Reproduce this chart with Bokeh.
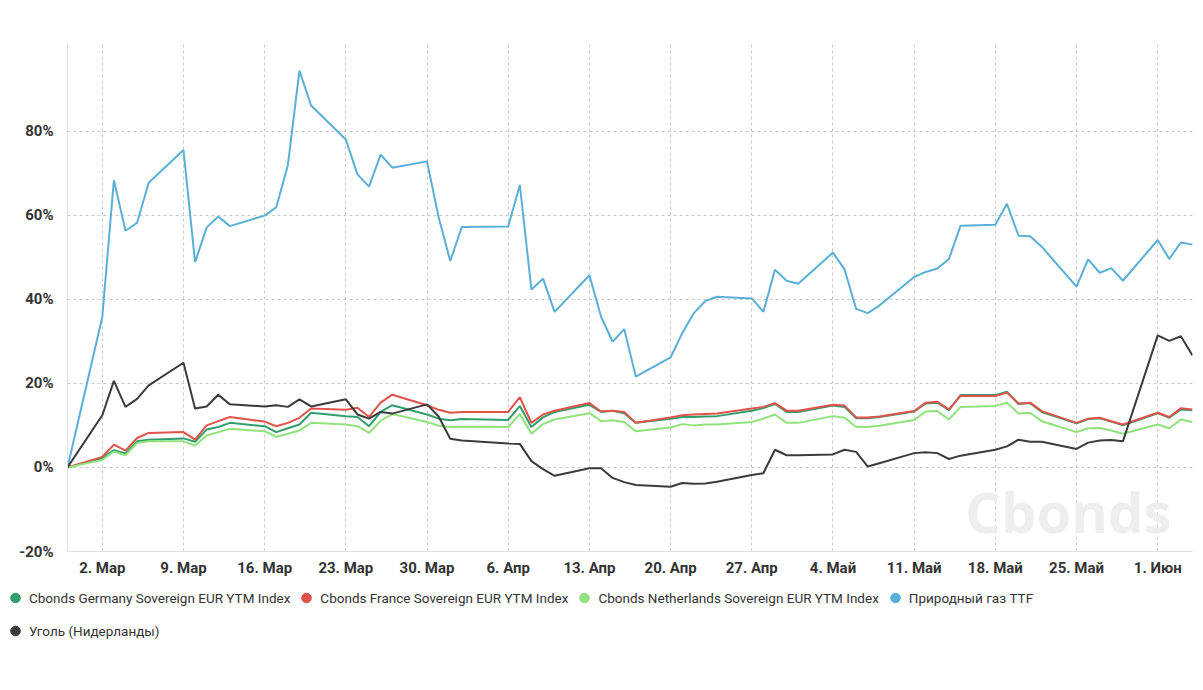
import pandas as pd
from datetime import datetime
from bokeh.plotting import figure
from bokeh.layouts import column
from bokeh.models import Range1d, FixedTicker, Legend, LegendItem, Label, PrintfTickFormatter
from bokeh.embed import file_html
from bokeh.resources import INLINE

# торговые дни (без Страстной пятницы)
dates = pd.bdate_range("2026-02-27", "2026-06-04")
dates = dates[dates != pd.Timestamp("2026-04-03")]

germany = [0,
           2.2, 4.1, 3.3, 6.2, 6.6,
           6.9, 6.1, 9.0, 9.6, 10.6,
           9.8, 8.4, 9.3, 10.2, 13.0,
           12.2, 12.0, 9.8, 13.2, 14.8,
           12.6, 11.6, 11.2, 11.5,
           11.3, 14.6, 9.6, 11.9, 13.2,
           14.9, 13.2, 13.5, 12.9, 10.6,
           11.6, 12.0, 12.0, 12.1, 12.2,
           13.5, 14.1, 15.1, 13.2, 13.2,
           14.7, 14.4, 11.7, 11.7, 12.0,
           13.3, 15.2, 15.4, 13.6, 17.2,
           17.2, 18.0, 15.1, 15.3, 13.2,
           10.5, 11.5, 11.7, 10.9, 10.0,
           12.9, 11.8, 13.8, 13.6]

france = [0,
          2.5, 5.4, 4.0, 7.0, 8.2,
          8.4, 6.6, 10.0, 11.0, 12.0,
          10.9, 9.8, 10.6, 11.8, 14.0,
          13.7, 14.2, 12.0, 15.4, 17.3,
          14.8, 13.7, 13.0, 13.2,
          13.2, 16.7, 10.6, 12.6, 13.5,
          15.3, 13.3, 13.5, 13.2, 10.6,
          11.9, 12.4, 12.6, 12.7, 12.8,
          14.0, 14.4, 15.3, 13.5, 13.5,
          14.9, 14.7, 11.9, 11.9, 12.1,
          13.4, 15.4, 15.6, 13.8, 17.0,
          17.0, 17.8, 15.2, 15.4, 13.4,
          10.6, 11.6, 11.8, 11.0, 10.2,
          13.0, 12.0, 14.1, 13.8]

netherlands = [0,
               1.8, 3.8, 2.9, 5.8, 6.2,
               6.2, 5.2, 7.6, 8.4, 9.2,
               8.6, 7.3, 8.0, 8.8, 10.6,
               10.2, 9.8, 8.2, 11.1, 12.7,
               10.8, 9.9, 9.6, 9.6,
               9.6, 12.7, 8.0, 10.3, 11.4,
               12.9, 11.0, 11.2, 10.8, 8.6,
               9.5, 10.3, 10.0, 10.2, 10.2,
               10.8, 11.6, 12.6, 10.6, 10.6,
               12.2, 11.8, 9.6, 9.6, 9.9,
               11.3, 13.3, 13.4, 11.4, 14.4,
               14.6, 15.4, 12.8, 13.0, 11.0,
               8.4, 9.3, 9.4, 8.8, 8.0,
               10.2, 9.3, 11.4, 10.8]

gas_ttf = [0,
           35.8, 68.3, 56.3, 58.2, 67.7,
           75.5, 48.8, 57.1, 59.7, 57.4,
           59.9, 61.9, 71.9, 94.4, 86.1,
           78.0, 69.7, 66.8, 74.4, 71.3,
           72.8, 59.5, 49.1, 57.2,
           57.3, 67.2, 42.3, 44.9, 37.0,
           45.7, 35.9, 29.9, 32.9, 21.6,
           26.2, 31.9, 36.7, 39.6, 40.6,
           40.2, 37.0, 47.0, 44.4, 43.7,
           51.1, 47.1, 37.7, 36.7, 38.5,
           45.3, 46.5, 47.3, 49.6, 57.5,
           57.7, 62.7, 55.1, 55.0, 52.5,
           43.0, 49.5, 46.3, 47.4, 44.4,
           54.1, 49.6, 53.5, 53.0]

coal = [0,
        12.4, 20.6, 14.4, 16.3, 19.5,
        24.9, 14.0, 14.5, 17.3, 15.0,
        14.5, 14.8, 14.4, 16.2, 14.5,
        16.2, 12.6, 11.6, 13.2, 12.8,
        15.0, 12.1, 6.8, 6.4,
        5.7, 5.6, 1.5, -0.4, -2.0,
        -0.2, -0.2, -2.5, -3.5, -4.2,
        -4.6, -3.7, -3.9, -3.8, -3.4,
        -1.8, -1.4, 4.2, 2.9, 2.9,
        3.1, 4.2, 3.7, 0.2, 1.0,
        3.4, 3.6, 3.4, 2.0, 2.8,
        4.2, 5.0, 6.6, 6.1, 6.1,
        4.4, 5.9, 6.4, 6.5, 6.2,
        31.4, 30.1, 31.2, 26.6]

series_names = ["Cbonds Germany Sovereign EUR YTM Index",
                "Cbonds France Sovereign EUR YTM Index",
                "Cbonds Netherlands Sovereign EUR YTM Index",
                "Природный газ TTF",
                "Уголь (Нидерланды)"]
series_colors = ["#2f9e6c", "#e0534b", "#90e27c", "#5aafd6", "#3b3b3b"]

week_ticks = pd.date_range("2026-03-02", "2026-06-01", freq="7D")
week_labels = ["2. Мар", "9. Мар", "16. Мар", "23. Мар", "30. Мар", "6. Апр", "13. Апр",
               "20. Апр", "27. Апр", "4. Май", "11. Май", "18. Май", "25. Май", "1. Июн"]
y_ticks = [-20, 0, 20, 40, 60, 80]

p = figure(frame_width=1125, frame_height=507, x_axis_type="datetime",
           x_range=Range1d(datetime(2026, 2, 27), datetime(2026, 6, 4)),
           y_range=Range1d(-20, 100.6),
           output_backend="svg", toolbar_location=None,
           min_border_left=67, min_border_right=2, min_border_top=44, min_border_bottom=20)
p.outline_line_color = None

tick_ms = [int(t.value // 10**6) for t in week_ticks]
p.xaxis.ticker = FixedTicker(ticks=tick_ms)
p.xaxis.major_label_overrides = dict(zip(tick_ms, week_labels))
p.yaxis.ticker = FixedTicker(ticks=y_ticks)
p.yaxis.formatter = PrintfTickFormatter(format="%d%%")

for ax in (p.xaxis, p.yaxis):
    ax.major_tick_line_color = None
    ax.minor_tick_line_color = None
    ax.axis_line_color = "#e0e0e0"
    ax.major_label_text_font = "Roboto"
    ax.major_label_text_font_style = "bold"
    ax.major_label_text_font_size = "15px"
    ax.major_label_text_color = "#333333"
p.yaxis.major_label_standoff = 8
p.xaxis.major_label_standoff = 1

for g in (p.xgrid, p.ygrid):
    g.grid_line_color = "#c8c8c8"
    g.grid_line_dash = "3 3"
    g.grid_line_width = 1

wm = Label(x=datetime(2026, 5, 15, 10), y=-19.3, text="Cbonds", text_font="Open Sans",
           text_font_style="bold", text_font_size="56px", text_color="#eeeeee",
           text_baseline="bottom", level="underlay")
p.add_layout(wm)

values = [germany, france, netherlands, gas_ttf, coal]
for col, vals in zip(series_colors, values):
    p.line(dates, vals, line_color=col, line_width=2)

# отдельная полоса под графиком для легенды
leg = figure(width=1194, height=68, x_range=Range1d(0, 1), y_range=Range1d(0, 1),
             output_backend="svg", toolbar_location=None, min_border=0)
leg.axis.visible = False
leg.grid.visible = False
leg.outline_line_color = None
if "frame_align" in leg.properties():
    leg.frame_align = False
    p.frame_align = False

items = []
for name, col, vals in zip(series_names, series_colors, values):
    # точка вне видимой области нужна только для значка легенды
    dot = leg.scatter(x=[-10], y=vals[:1], size=1, marker="circle",
                      fill_color=col, line_color=col)
    items.append(LegendItem(label=name, renderers=[dot]))

legend = Legend(items=items, orientation="horizontal", ncols=4, location=(3, 2),
                label_text_font="Roboto", label_text_font_size="13.5px",
                label_text_color="#333333", glyph_width=24, glyph_height=29,
                label_standoff=2, spacing=4, padding=0, margin=0,
                border_line_alpha=0, background_fill_alpha=0)
leg.add_layout(legend)

layout = column(p, leg, spacing=0)
open("out.html", "w").write(file_html(layout, INLINE))
